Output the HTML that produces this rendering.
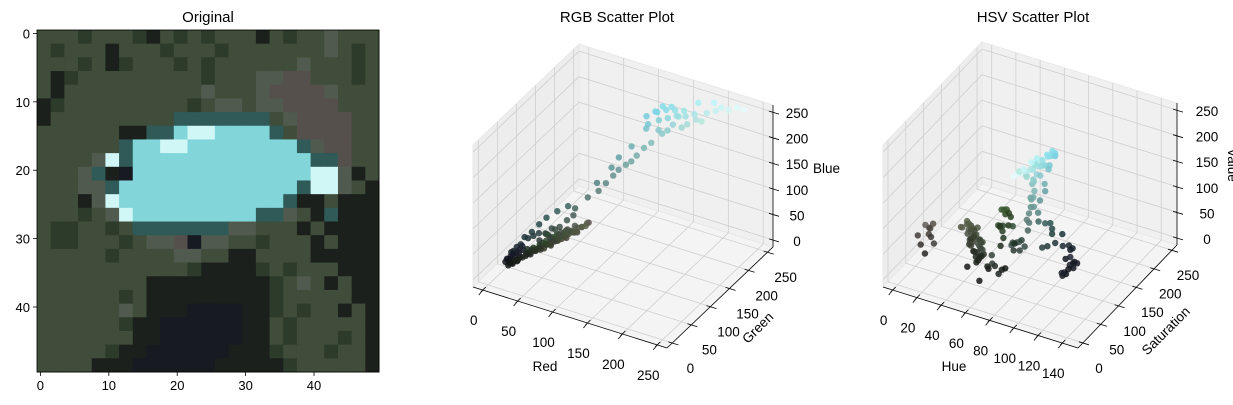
<!DOCTYPE html>
<html><head><meta charset="utf-8"><style>
body{margin:0;background:#fff;}
svg{display:block;font-family:"Liberation Sans","DejaVu Sans",sans-serif;}
</style></head><body>
<svg id="fig" width="1233" height="405" viewBox="0 0 1233 405">
<text x="208" y="22" font-size="15" text-anchor="middle">Original</text>
<text x="617" y="22" font-size="15" text-anchor="middle">RGB Scatter Plot</text>
<text x="1033" y="22" font-size="15" text-anchor="middle">HSV Scatter Plot</text>
<g id="img"></g>
<g id="rgb"></g>
<g id="hsv"></g>
</svg>
<script>
// ---- image data (2x2 pixel blocks) ----
const imageRows = [
"gggGgggGkgGgGgggkgGggmggg","gGgggkgggGgggGgggggggmgGg","gggGgkGgggGgGggggggmgggGg",
"gkGgggggggggGgggmmrrgggGg","gkggggggggggmgggmrrrrmggg","kGgggggggggGgmmgmmrrrrggg",
"kgggggggggtttttttgmrrrrgg","ggggggkkttcwwcccctgrrrrgg","ggggggtccwwcccccccctmrrgg",
"ggggmwtcccccccccccccttrgg","gggmtkbcccccccccccccwwmkg","gggmmtccccccccccccctwwmgk",
"gggkmwcccccccccccctkkgkkk","gggGgmwcccccccccttmgktkkk","gGGggGgtttttttmmgggkgkkkk",
"gGGgggGgmmrbmmggGgggkgkkk","gggggGggggmmggkkggggkkkkk","gggggggggggGkkkkGgGgggkkk",
"ggggggggkkkkkkkkkGgmgkgkk","ggggggGgkkkkkkkkkGgggggkk","ggggggmgkkkbbbbkkGgGggkgk",
"ggggggGkkbbbbbbkkgGgggggk","gggggggkkbbbbbbkkgGgggGgk","gggggGkkbbbbbbkkkGgggGggk",
"ggggkkkbbbbbbkkkkkGgggggk"];
const palette = {g:"#3f4d3a",G:"#2c3b2a",k:"#1b201c",m:"#505a4e",r:"#56504c",t:"#2f5a58",c:"#82d6da",w:"#d0f6f6",b:"#181a22"};
const imgTicks = [0,10,20,30,40];

// ---- scatter data: pixel colours (R,G,B) ----
const redValues =   [20,25,30,28,35,40,38,45,50,48,55,60,58,65,70,68,75,80,85,78,90,62,70,82,95,30,35,40,45,50,55,42,48,52,40,35,30,25,22,18,15,20,24,28,32,18,22,26,33,36,44,52,56,64,72,60,66,72,55,45,
 60,75,85,50,40,66,30,35,45,50,40,55,38,60,45,30,20,25,18,28,15,22,30,20,30,35,25,40,50,60,
 50,55,62,68,72,76,80,84,88,58,46,42,34,26,22,18,62,70,54,64,
 70,80,90,95,100,85,105,110,95,115,120,100,125,130,110,140,
 120,130,140,125,150,160,135,145,155,170,115,125,130,140,150,165,175,185,195,210,220,230,180,160,145,150,135,120,170,190,200];
const greenValues = [25,30,35,33,42,48,45,52,60,55,62,68,70,72,78,80,82,88,90,85,95,60,65,76,90,45,55,62,70,75,80,58,65,72,60,55,50,40,35,28,22,22,26,30,34,20,24,30,38,44,50,58,66,74,84,78,86,92,75,68,
 55,68,78,46,38,60,50,60,70,80,65,85,55,90,75,48,22,28,20,30,18,25,35,30,60,70,50,80,90,100,
 55,62,70,76,80,84,86,92,95,64,52,48,40,32,28,24,72,80,64,74,
 100,115,125,135,145,130,150,160,150,165,170,160,180,190,175,200,
 200,210,215,215,220,225,220,225,230,230,205,210,220,225,225,220,225,235,240,245,250,250,230,215,205,210,200,195,240,245,245];
const blueValues =  [20,22,28,30,33,36,40,42,45,50,48,52,55,58,60,65,66,70,72,75,78,55,60,70,85,30,35,38,42,48,52,50,60,68,62,58,55,48,45,38,28,30,34,40,44,18,20,24,30,34,40,46,50,56,62,70,80,88,65,58,
 50,62,70,44,36,58,25,28,35,40,30,45,30,50,50,35,35,40,30,45,25,38,50,40,60,70,55,78,88,95,
 40,45,50,55,60,62,64,70,72,52,42,38,32,26,24,20,60,68,56,64,
 95,110,120,130,140,130,150,155,150,160,170,165,180,185,180,200,
 210,215,220,225,225,225,230,230,230,230,220,230,235,235,220,215,225,235,240,245,250,250,220,210,205,215,205,205,245,250,245];
const rgbTicks = [0,50,100,150,200,250];
const hueTicks = [0,20,40,60,80,100,120,140];

const NS="http://www.w3.org/2000/svg";
function mk(parent,tag,attrs){const e=document.createElementNS(NS,tag);for(const k in attrs)e.setAttribute(k,attrs[k]);parent.appendChild(e);return e;}

// ---- original image ----
(function(){
 const g=document.getElementById('img');
 const x0=37,y0=30,W=342,cell=W/50;
 imageRows.forEach((row,ri)=>{[...row].forEach((ch,ci)=>{
  const r=mk(g,'rect',{x:x0+ci*2*cell,y:y0+ri*2*cell,width:2*cell+0.5,height:2*cell+0.5,fill:palette[ch]});
  
  
 });});
 const fr=mk(g,'rect',{x:x0,y:y0,width:W,height:W,fill:'none',stroke:'#000','stroke-width':0.8});
 
 
 imgTicks.forEach(t=>{
  const p=x0+(t+0.5)*cell;
  mk(g,'line',{x1:p,x2:p,y1:y0+W,y2:y0+W+4,stroke:'#000','stroke-width':0.8});
  const tx=mk(g,'text',{x:p,y:y0+W+18,'font-size':13,'text-anchor':'middle'});tx.textContent=t;
  
  
  mk(g,'line',{x1:x0-4,x2:x0,y1:y0+(t+0.5)*cell,y2:y0+(t+0.5)*cell,stroke:'#000','stroke-width':0.8});
  const ty=mk(g,'text',{x:x0-7,y:y0+(t+0.5)*cell+5,'font-size':13,'text-anchor':'end'});ty.textContent=t;
  
  
 });
})();

function toHSV(r,g,b){
 const mx=Math.max(r,g,b),mn=Math.min(r,g,b),d=mx-mn;let h=0;
 if(d>0){if(mx===r)h=60*(((g-b)/d)%6);else if(mx===g)h=60*(2+(b-r)/d);else h=60*(4+(r-g)/d);}
 if(h<0)h+=360;
 return [h/2, mx?d/mx*255:0, mx];
}

function plot3d(id,cfg){
 const g=document.getElementById(id);
 const A=cfg.A,ex=cfg.ex,ey=cfg.ey,ez=cfg.ez;
 const f=(v,l)=>(v-l[0])/(l[1]-l[0]);
 const P=(x,y,z)=>{const a=f(x,cfg.lx),b=f(y,cfg.ly),c=f(z,cfg.lz);return [A[0]+a*ex[0]+b*ey[0]+c*ez[0],A[1]+a*ex[1]+b*ey[1]+c*ez[1]];};
 const add=(...v)=>v.reduce((s,p)=>[s[0]+p[0],s[1]+p[1]],[0,0]);
 const poly=(pts,fill,name)=>{const e=mk(g,'polygon',{points:pts.map(p=>p.join(',')).join(' '),fill:fill,stroke:'#e6e6e6','stroke-width':0.8});
  
  };
 poly([A,add(A,ey),add(A,ey,ez),add(A,ez)],'#ededed','left-pane');
 poly([add(A,ey),add(A,ex,ey),add(A,ex,ey,ez),add(A,ey,ez)],'#f0f0f0','back-pane');
 poly([A,add(A,ex),add(A,ex,ey),add(A,ey)],'#f4f4f4','floor-pane');
 const [xl,yl,zl]=[cfg.lx,cfg.ly,cfg.lz];
 const gl=(p,q)=>{const e=mk(g,'line',{x1:p[0],y1:p[1],x2:q[0],y2:q[1],stroke:'#cfcfcf','stroke-width':0.8});
  
  };
 cfg.xt.forEach(t=>{gl(P(t,yl[0],zl[0]),P(t,yl[1],zl[0]));gl(P(t,yl[1],zl[0]),P(t,yl[1],zl[1]));});
 cfg.yt.forEach(t=>{gl(P(xl[0],t,zl[0]),P(xl[1],t,zl[0]));gl(P(xl[0],t,zl[0]),P(xl[0],t,zl[1]));});
 cfg.zt.forEach(t=>{gl(P(xl[0],yl[0],t),P(xl[0],yl[1],t));gl(P(xl[0],yl[1],t),P(xl[1],yl[1],t));});
 const ax=(p,q,name)=>{const e=mk(g,'line',{x1:p[0],y1:p[1],x2:q[0],y2:q[1],stroke:'#000','stroke-width':0.8});
  
  };
 ax(P(xl[0],yl[0],zl[0]),P(xl[1],yl[0],zl[0]),'x-axis-line');
 ax(P(xl[1],yl[0],zl[0]),P(xl[1],yl[1],zl[0]),'y-axis-line');
 ax(P(xl[1],yl[1],zl[0]),P(xl[1],yl[1],zl[1]),'z-axis-line');
 const lab=(x,y,s,anchor,name)=>{const t=mk(g,'text',{x:x,y:y,'font-size':13.5,'text-anchor':anchor});t.textContent=s;
  
  return t;};
 cfg.xt.forEach(t=>{const p=P(t,yl[0],zl[0]);ax([p[0]-2,p[1]+2],[p[0]+3,p[1]-3],'x-tick');ax(p,[p[0]-4,p[1]+5],'x-tick');lab(p[0]-9,p[1]+35,t,'middle','x-tick-label');});
 cfg.yt.forEach(t=>{const p=P(xl[1],t,zl[0]);ax([p[0]-4,p[1]-1],[p[0]+6,p[1]+2],'y-tick');lab(p[0]+cfg.yo,p[1]+30,t,'middle','y-tick-label');});
 cfg.zt.forEach(t=>{const p=P(xl[1],yl[1],t);ax([p[0]-4,p[1]-1],[p[0]+6,p[1]+2],'z-tick');lab(p[0]+cfg.zo,p[1]+6,t,'middle','z-tick-label');});
 cfg.pts.forEach(d=>{const p=P(d[0],d[1],d[2]);
  const c=mk(g,'circle',{cx:p[0].toFixed(1),cy:p[1].toFixed(1),r:3.2,fill:d[3],'fill-opacity':0.85});
  
  });
 cfg.labels.forEach(L=>{const t=mk(g,'text',{x:L[0],y:L[1],'font-size':13.5,'text-anchor':L[4]||'middle',transform:`rotate(${L[3]||0} ${L[0]} ${L[1]})`});t.textContent=L[2];
  
  });
}

const col=(r,g,b)=>`rgb(${r},${g},${b})`;
const rgbPts=redValues.map((r,i)=>[r,greenValues[i],blueValues[i],col(r,greenValues[i],blueValues[i])]);
const hsvPts=redValues.map((r,i)=>{const h=toHSV(r,greenValues[i],blueValues[i]);return [h[0],h[1],h[2],col(r,greenValues[i],blueValues[i])];});

plot3d('rgb',{A:[473,287],ex:[194,61],ey:[106,-101],ez:[0,-142],lx:[-14,264],ly:[-14,264],lz:[-14,264],
 xt:rgbTicks,yt:rgbTicks,zt:rgbTicks,yo:18,zo:24,pts:rgbPts,
 labels:[[545,371,'Red',0,'middle','x-axis-title'],[761,331,'Green',-45,'middle','y-axis-title'],[813,173,'Blue',0,'start','z-axis-title']]});
plot3d('hsv',{A:[883,287],ex:[195,61],ey:[99,-103],ez:[0,-142],lx:[-8,153],ly:[-14,264],lz:[-14,264],
 xt:hueTicks,yt:rgbTicks,zt:rgbTicks,yo:16,zo:30,pts:hsvPts,
 labels:[[954,371,'Hue',0,'middle','x-axis-title'],[1169,334,'Saturation',-45,'middle','y-axis-title'],[1228,165,'Value',90,'middle','z-axis-title']]});
</script>
</body></html>
